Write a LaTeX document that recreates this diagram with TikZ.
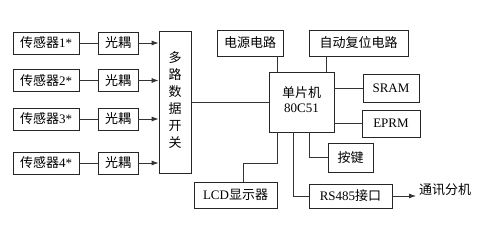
\documentclass[tikz,border=0pt]{standalone}
\usepackage{fontspec}
\setmainfont{Liberation Serif}
\newfontfamily\cjk{Noto Sans CJK SC}
\usetikzlibrary{arrows.meta}
\begin{document}
\begin{tikzpicture}[x=1pt,y=-1pt,
  box/.style={draw=black!85,line width=0.8pt,inner sep=0pt,font=\fontsize{13}{15}\selectfont},
  wire/.style={draw=black!80,line width=0.8pt},
  arr/.style={wire,-{Latex[length=7pt,width=5pt]}}]
\useasboundingbox (0,0) rectangle (482,232);
% sensors
\foreach \i/\y in {1/43,2/80.5,3/119,4/163}{
  \node[box,minimum width=66pt,minimum height=22pt] (s\i) at (46,\y) {{\cjk 传感器}\i*};
  \node[box,minimum width=40pt,minimum height=22pt] (g\i) at (118,\y) {\cjk 光耦};
}
\node[box,minimum width=32pt,minimum height=142pt] (mux) at (175,102)
  {\cjk\begin{tabular}{@{}c@{}}多\\[1.6pt]路\\[1.6pt]数\\[1.6pt]据\\[1.6pt]开\\[1.6pt]关\end{tabular}};
\foreach \i in {1,...,4}{
  \draw[wire] (s\i) -- (g\i);
  \draw[arr] (g\i) -- (g\i -| mux.west);
}
\node[box,minimum width=65pt,minimum height=60pt] (mcu) at (301.5,102)
  {\begin{tabular}{@{}c@{}}{\cjk 单片机}\\80C51\end{tabular}};
\node[box,minimum width=66pt,minimum height=26pt] (pwr) at (250,43) {\cjk 电源电路};
\node[box,minimum width=99pt,minimum height=26pt] (rst) at (358.5,43) {\cjk 自动复位电路};
\node[box,minimum width=56pt,minimum height=28pt] (sram) at (391,88) {SRAM};
\node[box,minimum width=58pt,minimum height=27pt] (eprm) at (391,123.5) {EPRM};
\node[box,minimum width=45pt,minimum height=29pt] (key) at (350.5,157.5) {\cjk 按键};
\node[box,minimum width=83pt,minimum height=26pt] (lcd) at (235.5,195) {LCD{\cjk 显示器}};
\node[box,minimum width=83pt,minimum height=24pt] (rs) at (350.5,196) {RS485{\cjk 接口}};
\node[font=\fontsize{13}{15}\selectfont\cjk,anchor=west,inner sep=0pt] (com) at (419,190) {通讯分机};
\coordinate (comin) at (416,196);
% wires
\draw[wire] (mux.east) -- (mcu.west);
\draw[wire] ([xshift=27pt]pwr.south) -- ([xshift=27pt]pwr.south |- mcu.north);
\draw[wire] ([xshift=-32.5pt]rst.south) -- ([xshift=-32.5pt]rst.south |- mcu.north);
\draw[wire] (sram.west) -- (sram.west -| mcu.east);
\draw[wire] (eprm.west) -- (eprm.west -| mcu.east);
\draw[wire] ([xshift=7.5pt]mcu.south) |- (key.west);
\draw[wire] ([xshift=-24.5pt]mcu.south) -- ++(0,31) -| ([xshift=7.5pt]lcd.north);
\draw[wire] ([xshift=-8.5pt]mcu.south) |- (rs.west);
\draw[arr] (rs.east) -- (comin);
\end{tikzpicture}
\end{document}
